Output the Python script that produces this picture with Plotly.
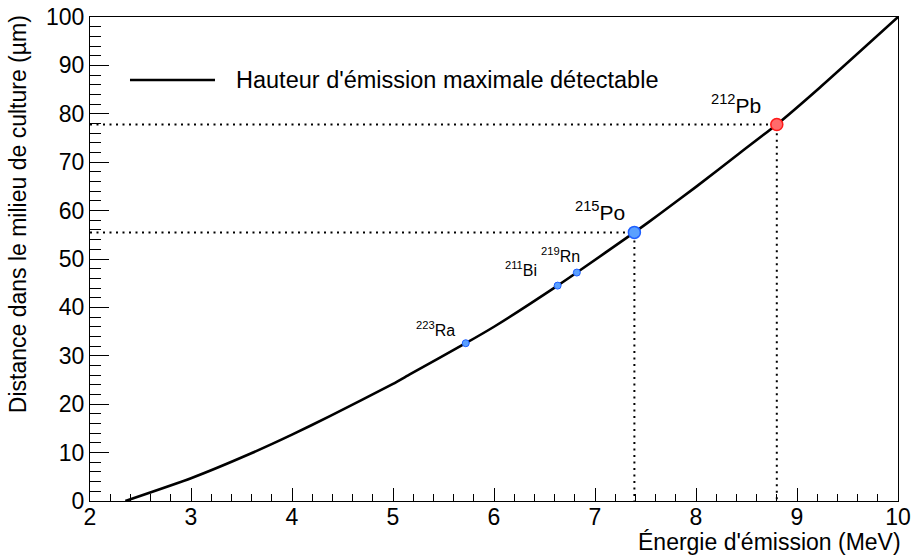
import plotly.graph_objects as go

# ---- data ----
curve_energy = [2.35, 3.0, 3.58, 4.0, 4.38, 5.0, 5.17, 5.72, 6.0, 6.63, 6.82,
                7.39, 7.64, 8.0, 8.44, 8.80, 9.23, 10.0]
curve_distance = [0.0, 4.7, 9.7, 13.7, 17.6, 24.2, 26.2, 32.6, 36.0, 44.5, 47.2,
                  55.5, 59.3, 64.9, 72.0, 77.8, 85.5, 100.0]

small_mass = ["223", "211", "219"]
small_symbol = ["Ra", "Bi", "Rn"]
small_energy = [5.72, 6.63, 6.82]
small_distance = [32.6, 44.5, 47.2]
small_label_shift = [(-9, 2), (-19, 5), (5, 6)]

po_mass, po_symbol, po_energy, po_distance = "215", "Po", 7.39, 55.5
pb_mass, pb_symbol, pb_energy, pb_distance = "212", "Pb", 8.80, 77.8

x_ticks = [2, 3, 4, 5, 6, 7, 8, 9, 10]
y_ticks = [0, 10, 20, 30, 40, 50, 60, 70, 80, 90, 100]

legend_text = "Hauteur d'émission maximale détectable"
x_title = "Énergie d'émission (MeV)"
y_title = "Distance dans le milieu de culture (µm)"

FONT = "Liberation Sans, Arial, Helvetica, sans-serif"

fig = go.Figure()

# dotted guide lines
for e, d in [(po_energy, po_distance), (pb_energy, pb_distance)]:
    fig.add_trace(go.Scatter(
        x=[2, e, e], y=[d, d, 0], mode="lines",
        line=dict(color="black", width=2, dash="2px,4.5px"),
        showlegend=False, hoverinfo="skip"))

# main curve
fig.add_trace(go.Scatter(
    x=curve_energy, y=curve_distance, mode="lines",
    line=dict(color="black", width=2.6, shape="spline", smoothing=0.5),
    showlegend=False))

# small markers
fig.add_trace(go.Scatter(
    x=small_energy, y=small_distance, mode="markers",
    marker=dict(size=7, color="#5aa0ff", line=dict(color="#1f5fff", width=1)),
    showlegend=False))

# Po marker
fig.add_trace(go.Scatter(
    x=[po_energy], y=[po_distance], mode="markers",
    marker=dict(size=12, color="#5aa0ff", line=dict(color="#1f5fff", width=1.5)),
    showlegend=False))

# Pb marker
fig.add_trace(go.Scatter(
    x=[pb_energy], y=[pb_distance], mode="markers",
    marker=dict(size=12, color="#ff6b6b", line=dict(color="#ff1a1a", width=1.5)),
    showlegend=False))

annotations = []
for m, s, e, d, (dx, dy) in zip(small_mass, small_symbol, small_energy,
                                small_distance, small_label_shift):
    annotations.append(dict(
        x=e, y=d, xref="x", yref="y", text=f"<sup>{m}</sup>{s}",
        showarrow=False, xanchor="right", yanchor="bottom",
        xshift=dx, yshift=dy, font=dict(family=FONT, size=16, color="black")))

for m, s, e, d, dx, dy in [(po_mass, po_symbol, po_energy, po_distance, -7, 6),
                           (pb_mass, pb_symbol, pb_energy, pb_distance, -14, 5)]:
    annotations.append(dict(
        x=e, y=d, xref="x", yref="y", text=f"<sup>{m}</sup>{s}",
        showarrow=False, xanchor="right", yanchor="bottom",
        xshift=dx, yshift=dy, font=dict(family=FONT, size=21, color="black")))

# legend text
annotations.append(dict(
    x=0.178, y=0.8698, xref="paper", yref="paper", text=legend_text,
    showarrow=False, xanchor="left", yanchor="middle",
    font=dict(family=FONT, size=23.5, color="black")))

# axis titles
annotations.append(dict(
    x=1.006, y=-0.084, xref="paper", yref="paper", text=x_title,
    showarrow=False, xanchor="right", yanchor="middle",
    font=dict(family=FONT, size=23, color="black")))
annotations.append(dict(
    x=-0.089, y=1.008, xref="paper", yref="paper", text=y_title,
    textangle=-90, showarrow=False, xanchor="center", yanchor="top",
    font=dict(family=FONT, size=23, color="black")))

fig.update_layout(
    width=913, height=557,
    margin=dict(l=90, r=15, t=17, b=56, autoexpand=False),
    paper_bgcolor="white", plot_bgcolor="white",
    font=dict(family=FONT, color="black"),
    annotations=annotations,
    shapes=[dict(type="line", xref="paper", yref="paper",
                 x0=0.0495, x1=0.1547, y0=0.8698, y1=0.8698,
                 line=dict(color="black", width=2.6))],
    showlegend=False,
)

fig.update_xaxes(
    range=[2, 10], tickvals=x_ticks, ticktext=[str(v) for v in x_ticks],
    ticks="inside", ticklen=13, tickwidth=1, tickcolor="black",
    ticklabelstandoff=-5,
    minor=dict(dtick=0.2, ticks="inside", ticklen=7, tickcolor="black", showgrid=False),
    showline=True, linecolor="black", linewidth=1, mirror=True,
    showgrid=False, zeroline=False, automargin=False,
    tickfont=dict(family=FONT, size=23, color="black"))

fig.update_yaxes(
    range=[0, 100], tickvals=y_ticks, ticktext=[str(v) for v in y_ticks],
    ticks="inside", ticklen=19, tickwidth=1, tickcolor="black",
    minor=dict(dtick=2, ticks="inside", ticklen=11, tickcolor="black", showgrid=False),
    showline=True, linecolor="black", linewidth=1, mirror=True,
    showgrid=False, zeroline=False, automargin=False,
    tickfont=dict(family=FONT, size=23, color="black"))

fig.write_html("out.html", config={"displayModeBar": False},
               post_script="document.body.style.margin='0px';document.body.style.overflow='hidden';")
